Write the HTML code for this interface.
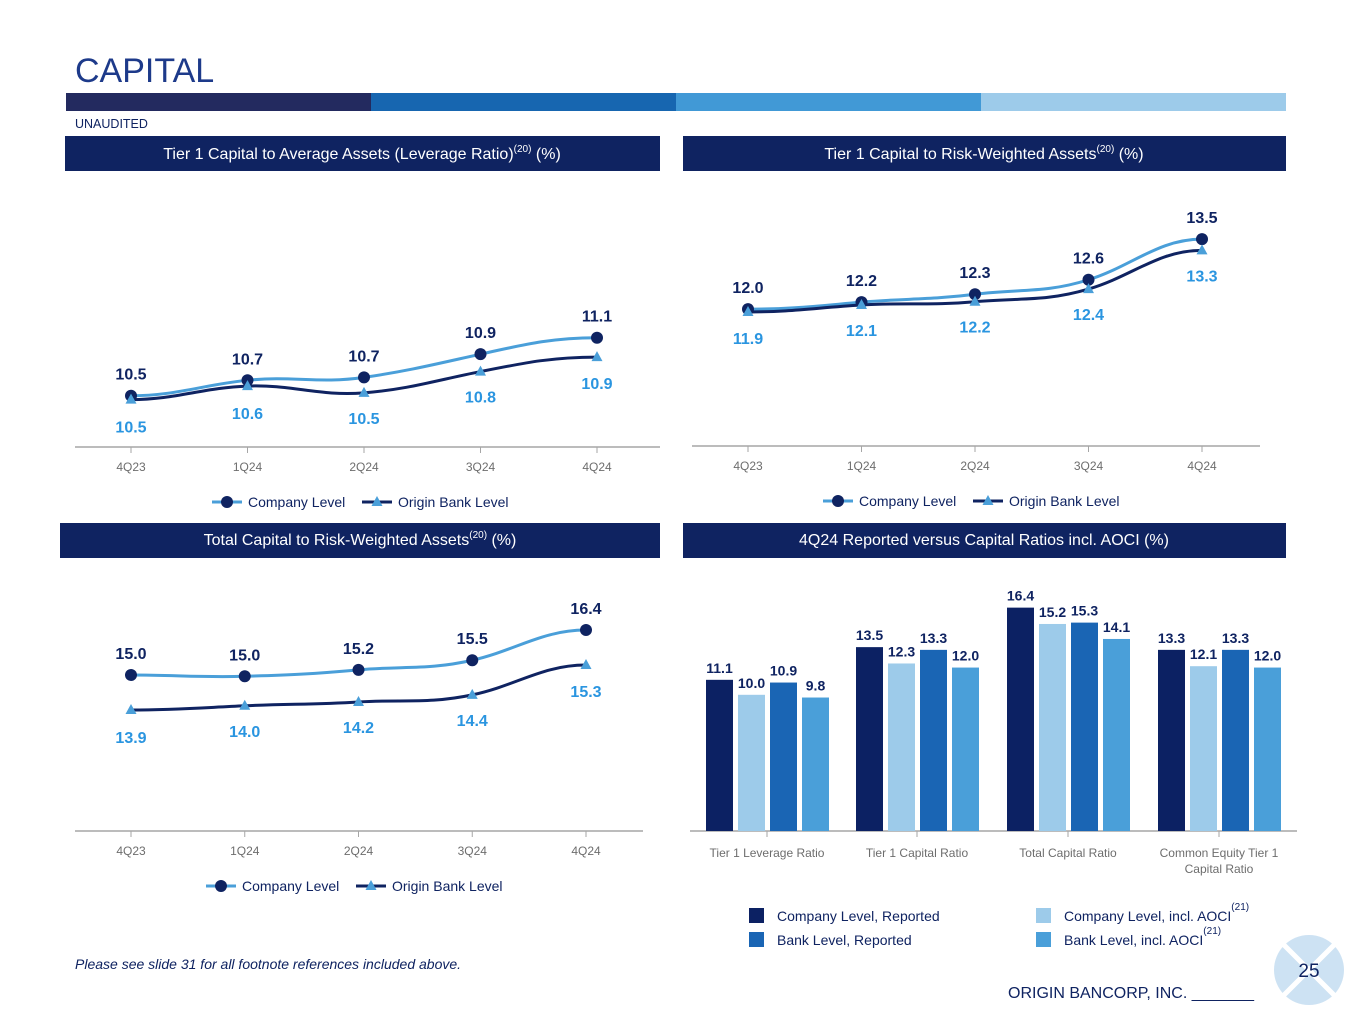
<!DOCTYPE html>
<html><head><meta charset="utf-8"><style>
body{margin:0;background:#fff;font-family:"Liberation Sans",Arial,sans-serif;}
svg text{font-family:"Liberation Sans",Arial,sans-serif;}
</style></head><body>
<svg id="s" width="1365" height="1024" viewBox="0 0 1365 1024" xmlns="http://www.w3.org/2000/svg">
<text x="75" y="82" font-size="34" fill="#1d3a8a">CAPITAL</text>
<g>
<rect x="66" y="93" width="305" height="18" fill="#232a5f"/><rect x="371" y="93" width="305" height="18" fill="#1766b0"/>
<rect x="676" y="93" width="305" height="18" fill="#4199d6"/><rect x="981" y="93" width="305" height="18" fill="#9dcbea"/></g>
<text x="75" y="128" font-size="12.5" fill="#0f2361">UNAUDITED</text>
<g><rect x="65" y="136" width="595" height="35" fill="#0f2361"/>
<text x="362" y="159" font-size="16" fill="#fff" text-anchor="middle">Tier 1 Capital to Average Assets (Leverage Ratio)<tspan font-size="10" dy="-7">(20)</tspan><tspan dy="7"> (%)</tspan></text></g>
<g><rect x="683" y="136" width="603" height="35" fill="#0f2361"/>
<text x="984" y="159" font-size="16" fill="#fff" text-anchor="middle">Tier 1 Capital to Risk-Weighted Assets<tspan font-size="10" dy="-7">(20)</tspan><tspan dy="7"> (%)</tspan></text></g>
<g><rect x="60" y="523" width="600" height="35" fill="#0f2361"/>
<text x="360" y="545" font-size="16" fill="#fff" text-anchor="middle">Total Capital to Risk-Weighted Assets<tspan font-size="10" dy="-7">(20)</tspan><tspan dy="7"> (%)</tspan></text></g>
<g><rect x="683" y="523" width="603" height="35" fill="#0f2361"/>
<text x="984" y="545" font-size="16" fill="#fff" text-anchor="middle">4Q24 Reported versus Capital Ratios incl. AOCI (%)</text></g>
<g id="c1"></g>
<g id="c2"></g>
<g id="c3"></g>
<g id="c4"></g>
<text x="75" y="969" font-size="14" font-style="italic" fill="#0f2361">Please see slide 31 for all footnote references included above.</text>
<g>
<circle cx="1309" cy="970" r="35" fill="#cde2f3"/>
<line x1="1284" y1="945" x2="1334" y2="995" stroke="#fff" stroke-width="5"/><line x1="1334" y1="945" x2="1284" y2="995" stroke="#fff" stroke-width="5"/>
<text x="1309" y="977" font-size="19" fill="#0f2361" text-anchor="middle">25</text></g>
<text x="1008" y="998" font-size="16" fill="#0f2361">ORIGIN BANCORP, INC. _______</text>
</svg>
<script>
const quarters=["4Q23","1Q24","2Q24","3Q24","4Q24"];
const lev_company=[10.5,10.66,10.69,10.93,11.1];
const lev_bank=[10.46,10.6,10.53,10.75,10.9];
const t1_company=[12.0,12.15,12.32,12.63,13.5];
const t1_bank=[11.94,12.09,12.16,12.43,13.26];
const tc_company=[15.0,14.96,15.16,15.46,16.4];
const tc_bank=[13.91,14.04,14.16,14.38,15.31];
const barCats=["Tier 1 Leverage Ratio","Tier 1 Capital Ratio","Total Capital Ratio","Common Equity Tier 1|Capital Ratio"];
const bar_companyReported=[11.1,13.5,16.4,13.3];
const bar_companyAOCI=[10.0,12.3,15.2,12.1];
const bar_bankReported=[10.9,13.3,15.3,13.3];
const bar_bankAOCI=[9.8,12.0,14.1,12.0];
const barSeriesNames=["Company Level, Reported","Company Level, incl. AOCI","Bank Level, Reported","Bank Level, incl. AOCI"];

const NS="http://www.w3.org/2000/svg";
function mk(p,t,a){const e=document.createElementNS(NS,t);for(const k in a)e.setAttribute(k,a[k]);p.appendChild(e);return e;}
const NAVY="#0f2361",LB="#4a9fd9",LBT="#2a95e0";

function lineChart(gid,cfg,comp,bank){
  const g=document.getElementById(gid);
  const x=i=>cfg.x0+i*cfg.dx;
  const y=v=>cfg.base-(v-cfg.vmin)*cfg.k;
  const ax=mk(g,'line',{x1:cfg.ax0,x2:cfg.ax1,y1:cfg.base,y2:cfg.base,stroke:"#a6a6a6","stroke-width":1.5});
  
  
  quarters.forEach((q,i)=>{
    mk(g,'line',{x1:x(i),x2:x(i),y1:cfg.base,y2:cfg.base+6,stroke:"#a6a6a6"});
    const t=mk(g,'text',{x:x(i),y:cfg.base+24,"font-size":12,fill:"#6d6d6d","text-anchor":"middle"});t.textContent=q;
    
    
  });
  function path(vals){let d="";const p=vals.map((v,i)=>[x(i),y(v)]);
    d="M"+p[0].join(",");for(let i=1;i<p.length;i++){const m=(p[i][0]-p[i-1][0])/2.6;d+=` C${p[i-1][0]+m},${p[i-1][1]+(i>1?(p[i][1]-p[i-2][1])/4:0)} ${p[i][0]-m},${p[i][1]-(i<p.length-1?(p[i+1][1]-p[i-1][1])/4:0)} ${p[i][0]},${p[i][1]}`;}return d;}
  const lc=mk(g,'path',{d:path(comp),fill:"none",stroke:LB,"stroke-width":3});
  
  
  const lb=mk(g,'path',{d:path(bank),fill:"none",stroke:NAVY,"stroke-width":3});
  
  
  comp.forEach((v,i)=>{
    const c=mk(g,'circle',{cx:x(i),cy:y(v),r:6,fill:NAVY});
    
    
    const t=mk(g,'text',{x:x(i),y:y(v)-16,"font-size":16,"font-weight":"bold",fill:NAVY,"text-anchor":"middle"});t.textContent=v.toFixed(1);
    
    
  });
  bank.forEach((v,i)=>{
    const yy=y(v);
    const p=mk(g,'polygon',{points:`${x(i)},${yy-6} ${x(i)+5.5},${yy+4} ${x(i)-5.5},${yy+4}`,fill:LB});
    
    
    const t=mk(g,'text',{x:x(i),y:yy+(cfg.bankOff[i]),"font-size":16,"font-weight":"bold",fill:LBT,"text-anchor":"middle"});t.textContent=v.toFixed(1);
    
    
  });
  const ly=cfg.base+55,lx=cfg.legX;
  const l1=mk(g,'g',{});
  mk(l1,'line',{x1:lx,x2:lx+30,y1:ly,y2:ly,stroke:LB,"stroke-width":3});mk(l1,'circle',{cx:lx+15,cy:ly,r:6,fill:NAVY});
  mk(l1,'text',{x:lx+36,y:ly+5,"font-size":14,fill:NAVY}).textContent="Company Level";
  const l2=mk(g,'g',{});
  const b=lx+150;mk(l2,'line',{x1:b,x2:b+30,y1:ly,y2:ly,stroke:NAVY,"stroke-width":3});
  mk(l2,'polygon',{points:`${b+15},${ly-6} ${b+20.5},${ly+4} ${b+9.5},${ly+4}`,fill:LB});
  mk(l2,'text',{x:b+36,y:ly+5,"font-size":14,fill:NAVY}).textContent="Origin Bank Level";
}
lineChart('c1',{x0:131,dx:116.5,base:447,vmin:9.97,k:96.7,ax0:75,ax1:660,legX:212,bankOff:[33,33,31,31,32]},lev_company,lev_bank);
lineChart('c2',{x0:748,dx:113.5,base:446,vmin:9.07,k:46.7,ax0:692,ax1:1260,legX:823,bankOff:[32,31,31,31,31]},t1_company,t1_bank);
lineChart('c3',{x0:131,dx:113.75,base:831,vmin:10.14,k:32.1,ax0:75,ax1:643,legX:206,bankOff:[33,31,31,31,32]},tc_company,tc_bank);

(function(){
  const g=document.getElementById('c4');
  const base=831,k=13.62,bw=27,step=32;
  const centers=[767,917,1068,1219];
  const series=[bar_companyReported,bar_companyAOCI,bar_bankReported,bar_bankAOCI];
  const cols=["#0c2163","#9dcbea","#1a65b4","#4a9fd9"];
  const ax=mk(g,'line',{x1:690,x2:1297,y1:base,y2:base,stroke:"#a6a6a6","stroke-width":1.5});
  
  
  barCats.forEach((c,ci)=>{
    const cx=centers[ci];
    mk(g,'line',{x1:cx,x2:cx,y1:base,y2:base+6,stroke:"#a6a6a6"});
    c.split("|").forEach((ln,li)=>{const t=mk(g,'text',{x:cx,y:base+26+li*16,"font-size":12,fill:"#6d6d6d","text-anchor":"middle"});t.textContent=ln;
      
      });
    series.forEach((s,si)=>{
      const v=s[ci],h=v*k,bx=cx-61+si*step;
      const r=mk(g,'rect',{x:bx,y:base-h,width:bw,height:h,fill:cols[si]});
      
      
      const t=mk(g,'text',{x:bx+bw/2,y:base-h-7,"font-size":14,"font-weight":"bold",fill:NAVY,"text-anchor":"middle"});t.textContent=v.toFixed(1);
      
      
    });
  });
  const pos=[[749,908],[1036,908],[749,932],[1036,932]];
  [0,1,2,3].forEach(si=>{
    const [lx,ly]=pos[si];
    const e=mk(g,'g',{});
    
    
    mk(e,'rect',{x:lx,y:ly,width:15,height:15,fill:cols[si]});
    const t=mk(e,'text',{x:lx+28,y:ly+13,"font-size":14,fill:NAVY});t.textContent=barSeriesNames[si];
    if(si%2===1){const sp=mk(t,'tspan',{"font-size":10,dy:-11});sp.textContent="(21)";}
  });
})();
</script>
</body></html>
